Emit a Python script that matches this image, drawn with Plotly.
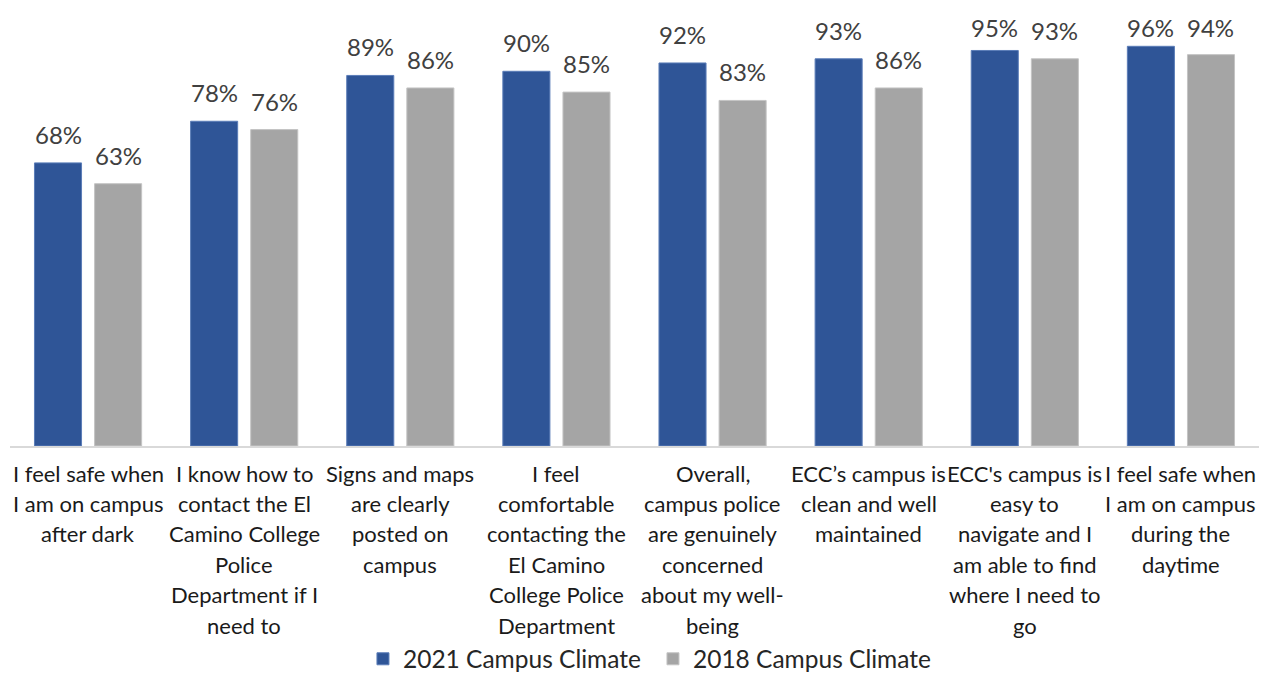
import plotly.graph_objects as go

categories = [
    "I feel safe when<br>I am on campus<br>after dark",
    "I know how to<br>contact the El<br>Camino College<br>Police<br>Department if I<br>need to",
    "Signs and maps<br>are clearly<br>posted on<br>campus",
    "I feel<br>comfortable<br>contacting the<br>El Camino<br>College Police<br>Department",
    "Overall,<br>campus police<br>are genuinely<br>concerned<br>about my well-<br>being",
    "ECC\u2019s campus is<br>clean and well<br>maintained",
    "ECC's campus is<br>easy to<br>navigate and I<br>am able to find<br>where I need to<br>go",
    "I feel safe when<br>I am on campus<br>during the<br>daytime",
]
series_2021 = [68, 78, 89, 90, 92, 93, 95, 96]
series_2018 = [63, 76, 86, 85, 83, 86, 93, 94]
series_names = ["2021 Campus Climate", "2018 Campus Climate"]

FONT = "Lato, 'Open Sans', sans-serif"
BLUE = "#2F5597"
GRAY = "#A5A5A5"
Y_MAX = 105.2
LABEL_GAP = 2.9     # data units above the bar
LABEL_CAP = 96.5    # labels are kept inside the chart area (as Excel does)

xs = list(range(len(categories)))

fig = go.Figure()
fig.add_trace(go.Bar(x=xs, y=series_2021, name=series_names[0],
                     marker=dict(color=BLUE, line=dict(color="#5B7DB8", width=1))))
fig.add_trace(go.Bar(x=xs, y=series_2018, name=series_names[1],
                     marker=dict(color=GRAY, line=dict(color="#C4C4C4", width=1))))

annotations = []
for i, (a, b) in enumerate(zip(series_2021, series_2018)):
    for val, shift in ((a, -30), (b, 30)):
        annotations.append(dict(x=i, y=min(val + LABEL_GAP, LABEL_CAP), xref="x", yref="y",
                                text=f"{val}%", showarrow=False, xshift=shift, yanchor="bottom",
                                font=dict(family=FONT, size=24, color="#404040")))
    for j, line in enumerate(categories[i].split("<br>")):
        annotations.append(dict(x=i, y=0, xref="x", yref="paper", text=line,
                                showarrow=False, yanchor="middle", yshift=-(27 + 30.4 * j),
                                font=dict(family=FONT, size=22, color="#1a1a1a")))

fig.update_layout(
    width=1261, height=675,
    margin=dict(l=2, r=10, t=0, b=237),
    paper_bgcolor="white", plot_bgcolor="white",
    barmode="group", bargap=0.23, bargroupgap=0.217,
    font=dict(family=FONT),
    xaxis=dict(range=[-0.5, len(categories) - 0.5], showticklabels=False, ticks="",
               showgrid=False, zeroline=False, showline=True, linecolor="#D9D9D9", linewidth=1.5),
    yaxis=dict(range=[0, Y_MAX], visible=False),
    legend=dict(orientation="h", x=0.2826, xanchor="left", y=-0.486, yanchor="middle",
                font=dict(family=FONT, size=24.5, color="#262626"), itemwidth=30,
                entrywidth=245, entrywidthmode="pixels",
                traceorder="normal"),
    annotations=annotations,
    showlegend=True,
)

fig.write_html("out.html")
